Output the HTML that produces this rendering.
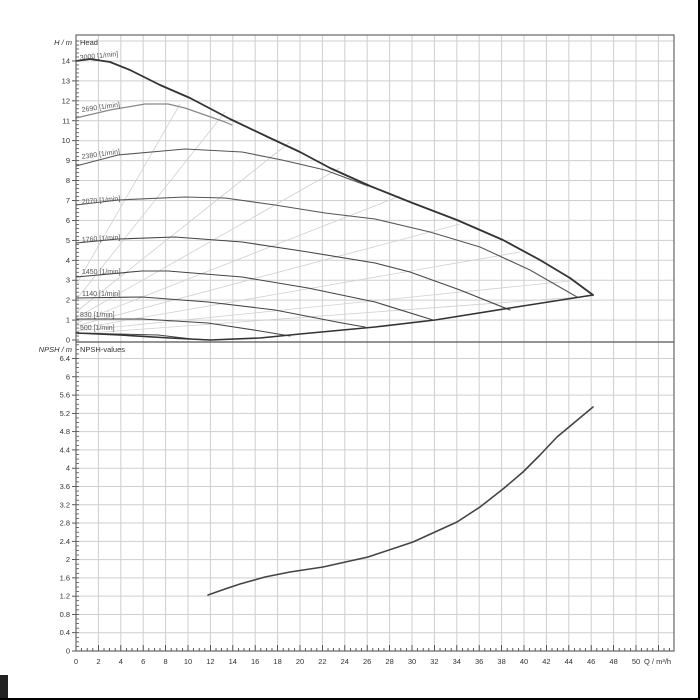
<!DOCTYPE html>
<html><head><meta charset="utf-8"><style>
html,body{margin:0;padding:0;background:#fff;}
svg{display:block;font-family:"Liberation Sans",sans-serif;}
</style></head><body>
<svg id="s" width="700" height="700" viewBox="0 0 700 700" xmlns="http://www.w3.org/2000/svg">
<rect width="700" height="700" fill="#fff"/>
<g id="grid"></g>
<g fill="none" stroke="#d0d0d0" stroke-width="0.8">
<line x1="76" y1="300" x2="225" y2="112"/>
<line x1="76" y1="312" x2="290" y2="142"/>
<line x1="76" y1="318" x2="340" y2="168"/>
<line x1="76" y1="323" x2="400" y2="196"/>
<line x1="76" y1="326" x2="460" y2="224"/>
<line x1="76" y1="329" x2="520" y2="252"/>
<line x1="76" y1="331" x2="570" y2="281"/>
<line x1="76" y1="334" x2="593" y2="296"/>
<line x1="76" y1="285" x2="180" y2="104"/>
</g>
<g fill="none" stroke-linejoin="round" stroke-linecap="round">
<polyline stroke="#888" stroke-width="1.2" points="76,118 110,110 145,104 168,104 185,108 225,122 232,125"/>
<polyline stroke="#555" stroke-width="1.1" points="76,166 118,155 185,149 242,152 282,160 325,170 368,186"/>
<polyline stroke="#555" stroke-width="1.1" points="76,205 118,200 185,197 225,198 275,205 325,213 375,219 430,232 480,247 530,270 577,297"/>
<polyline stroke="#444" stroke-width="1.1" points="76,243 118,239 175,237 242,242 308,252 375,263 410,272 460,290 510,310"/>
<polyline stroke="#444" stroke-width="1.1" points="76,277 142,271 168,271 242,277 308,288 375,302 433,320"/>
<polyline stroke="#444" stroke-width="1.1" points="76,298 142,297 208,302 275,310 342,323 365,327"/>
<polyline stroke="#444" stroke-width="1.1" points="76,319 142,319 208,323 260,331 290,336"/>
<polyline stroke="#444" stroke-width="1.1" points="76,333 158,335 192,339 210,340"/>
<polyline stroke="#333" stroke-width="1.6" points="76,333 120,335 170,338 210,340 260,338 300,334 375,327 435,320 510,308 593,295"/>
<polyline stroke="#333" stroke-width="1.8" points="76,61 90,59 110,62 130,70 160,85 190,98 230,119 270,138 300,152 330,168 370,186 410,202 457,220 503,240 540,260 570,278 593,295"/>
<polyline stroke="#444" stroke-width="1.6" points="208,595 225,589 240,584 265,577 290,572 323,567 368,557 413,542 457,522 480,507 503,489 523,472 540,455 557,437 575,422 593,407"/>
</g>
<g font-size="7" fill="#555">
<text x="80" y="60" transform="rotate(-6 80 60)">3000 [1/min]</text>
<text x="82" y="112" transform="rotate(-8 82 112)">2690 [1/min]</text>
<text x="82" y="159" transform="rotate(-8 82 159)">2380 [1/min]</text>
<text x="82" y="204" transform="rotate(-5 82 204)">2070 [1/min]</text>
<text x="82" y="242" transform="rotate(-4 82 242)">1760 [1/min]</text>
<text x="82" y="274">1450 [1/min]</text>
<text x="82" y="296">1140 [1/min]</text>
<text x="80" y="317">830 [1/min]</text>
<text x="80" y="330">500 [1/min]</text>
</g>
<g font-size="7.5" fill="#333">
<text x="72" y="45" text-anchor="end" font-style="italic">H / m</text>
<text x="80" y="45">Head</text>
<text x="72" y="352" text-anchor="end" font-style="italic">NPSH / m</text>
<text x="80" y="352">NPSH-values</text>
<text x="644" y="664">Q / m³/h</text>
</g>
<g id="labels" font-size="7.5" fill="#333"></g>
<rect x="76" y="35" width="598" height="616" fill="none" stroke="#666" stroke-width="1.2"/>
<line x1="76" y1="342" x2="674" y2="342" stroke="#555" stroke-width="1.2"/>
<rect x="0" y="675" width="8" height="25" fill="#222"/>
<line x1="699" y1="0" x2="699" y2="700" stroke="#000" stroke-width="2"/>
<line x1="0" y1="699" x2="700" y2="699" stroke="#000" stroke-width="2"/>
</svg>
<script>
var NS="http://www.w3.org/2000/svg";
var g=document.getElementById("grid"),L=document.getElementById("labels");
function ln(p,x1,y1,x2,y2,c,w){var e=document.createElementNS(NS,"line");e.setAttribute("x1",x1);e.setAttribute("y1",y1);e.setAttribute("x2",x2);e.setAttribute("y2",y2);e.setAttribute("stroke",c);e.setAttribute("stroke-width",w);p.appendChild(e);}
function tx(x,y,s,a){var e=document.createElementNS(NS,"text");e.setAttribute("x",x);e.setAttribute("y",y);if(a)e.setAttribute("text-anchor",a);e.textContent=s;L.appendChild(e);}
var X0=76,XS=11.2;
for(var q=2;q<=52;q+=2){var x=X0+q*XS;ln(g,x,35,x,651,"#cfcfcf",1);}
for(var q=0;q<=50;q+=2){tx(X0+q*XS,664,String(q),"middle");}
for(var q=0;q<=53;q+=0.5){var x=X0+q*XS;ln(g,x,651,x,q%2==0?645:648,"#333",0.8);}
var H0=340,HS=19.93;
for(var h=1;h<=15;h++){var y=H0-h*HS;if(y>35)ln(g,76,y,674,y,"#cfcfcf",1);}
for(var h=0;h<=14;h++){tx(70,H0-h*HS+2.5,String(h),"end");ln(g,72,H0-h*HS,76,H0-h*HS,"#333",0.8);}
for(var h=0;h<=15;h+=0.2){var y=H0-h*HS;if(y>36)ln(g,76,y,79,y,"#333",0.7);}
var N0=651,NS2=45.7;
for(var i=1;i<=16;i++){var y=N0-i*0.4*NS2;ln(g,76,y,674,y,"#cfcfcf",1);}
for(var i=0;i<=16;i++){var v=(i*0.4);var s=(Math.abs(v-Math.round(v))<1e-6)?String(Math.round(v)):v.toFixed(1);tx(70,N0-v*NS2+2.5,s,"end");ln(g,72,N0-v*NS2,76,N0-v*NS2,"#333",0.8);}
for(var v=0;v<=6.75;v+=0.1){var y=N0-v*NS2;ln(g,76,y,79,y,"#333",0.7);}
</script>
</body></html>
